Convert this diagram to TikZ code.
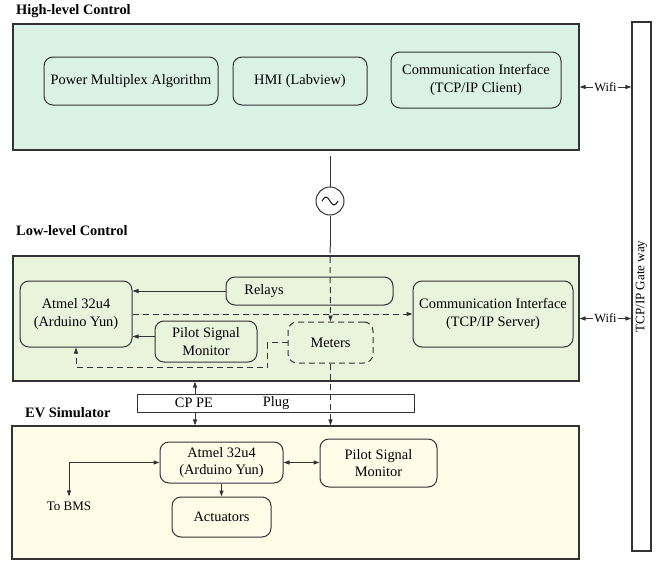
\documentclass[tikz,border=0pt]{standalone}
\usepackage{fontspec}
\setmainfont{Liberation Serif}
\usetikzlibrary{arrows.meta}
\definecolor{hlfill}{HTML}{D9F2E4}
\definecolor{llfill}{HTML}{E9F4DD}
\definecolor{evfill}{HTML}{FFFDE7}
\definecolor{edge}{HTML}{333333}
\begin{document}
\begin{tikzpicture}[x=1pt,y=-1pt,
  >={Triangle[length=6pt,width=4pt]},
  txt/.style={font=\fontsize{14.4}{17.5}\selectfont},
  ttl/.style={font=\bfseries\fontsize{14.4}{17.5}\selectfont, anchor=base west, inner sep=0},
  layer/.style={draw=edge, line width=1.1pt, inner sep=0},
  rbox/.style={draw=edge, line width=1pt, rounded corners=9pt, align=center, inner sep=0, txt},
  conn/.style={line width=1pt, draw=edge},
  dline/.style={conn, dash pattern=on 6pt off 4pt},
  small/.style={font=\fontsize{12.5}{14}\selectfont, inner sep=1pt}]
\useasboundingbox (0,0) rectangle (662,563);

% gateway
\node[layer, fill=white, minimum width=19, minimum height=529] (gate) at (641.5,286.5) {};
\node[rotate=90, font=\fontsize{13}{15}\selectfont] (gatetxt) at (gate.center) {TCP/IP Gate way};

% high-level
\node[ttl] (hlt) at (16,14) {High-level Control};
\node[layer, fill=hlfill, minimum width=566, minimum height=126] (high) at (296,87) {};
\node[rbox, minimum width=174, minimum height=48] (pma) at (131,81) {Power Multiplex Algorithm};
\node[rbox, minimum width=134, minimum height=48] (hmi) at (300,81) {HMI (Labview)};
\node[rbox, minimum width=170, minimum height=56] (cic) at (476,80) {Communication Interface\\(TCP/IP Client)};
\draw[conn, <->] (high.east) -- node[small, fill=white] (wifi1) {Wifi} (high.east -| gate.west);

% AC source
\node[circle, draw=edge, line width=1pt, minimum size=28, inner sep=0] (ac) at (330,201) {};
\draw[line width=0.9pt] (ac.center) ++(-8,0) sin ++(4,-4) cos ++(4,4) sin ++(4,4) cos ++(4,-4);
\coordinate (c1) at (330,247);
\draw[conn, shorten <=5pt] (high.south -| ac) -- (ac.north);
\draw[conn] (ac.south) -- (c1);

% low-level
\node[ttl] (llt) at (16,235) {Low-level Control};
\node[layer, fill=llfill, minimum width=566, minimum height=125] (low) at (296,318.5) {};
\node[rbox, minimum width=112, minimum height=66] (atm1) at (76,314) {Atmel 32u4\\(Arduino Yun)};
\node[rbox, minimum width=167, minimum height=28] (relays) at (309.5,291) {};
\node[txt, inner sep=0] (relaystxt) at (264,291) {Relays};
\node[rbox, minimum width=102, minimum height=41] (psm1) at (206,341.5) {Pilot Signal\\Monitor};
\node[rbox, dash pattern=on 6pt off 4pt, minimum width=85, minimum height=41] (meters) at (330.5,342.5) {Meters};
\node[rbox, minimum width=160, minimum height=66] (cis) at (493,314) {Communication Interface\\(TCP/IP Server)};
\draw[conn, <->] (low.east) -- node[small, fill=white] (wifi2) {Wifi} (low.east -| gate.west);

\draw[conn, ->] (relays.west) -- (relays.west -| atm1.east);
\draw[conn, ->] ([yshift=5pt]psm1.west) -- ([yshift=5pt]psm1.west -| atm1.east);
\draw[dline, ->] (atm1.east) -- (atm1.east -| cis.west);
\draw[dline, ->] (meters.west) -- ++(-20,0) |- ([yshift=-20pt]atm1.south) -- (atm1.south);

% plug
\node[draw=edge, line width=1pt, fill=white, minimum width=277, minimum height=18, inner sep=0] (plug) at (275.5,403) {};
\node[txt, inner sep=0] (cppe) at (194,403) {CP PE};
\node[txt, inner sep=0] (plugtxt) at (276,403) {Plug};

% EV simulator
\node[ttl] (evt) at (25,417) {EV Simulator};
\node[layer, fill=evfill, minimum width=567, minimum height=133] (ev) at (295.5,492.5) {};
\node[rbox, minimum width=123, minimum height=41] (atm2) at (221.5,462.5) {Atmel 32u4\\(Arduino Yun)};
\node[rbox, minimum width=117, minimum height=48] (psm2) at (378.5,463) {Pilot Signal\\Monitor};
\node[rbox, minimum width=99, minimum height=40] (act) at (221.5,517) {Actuators};
\node[font=\fontsize{13}{15}\selectfont, inner sep=0] (bms) at (69,506) {To BMS};

\coordinate (cp) at (195,403);
\draw[conn, ->] (cp |- plug.north) -- (cp |- low.south);
\draw[conn, ->] (cp |- plug.south) -- (cp |- ev.north);

% vertical dashed power path
\draw[dline, ->] (c1) -- (meters.north);
\draw[dline, ->] (meters.south) -- (meters.south |- ev.north);

\draw[conn, <->] (atm2.east) -- (atm2.east -| psm2.west);
\draw[conn, ->] (atm2.south) -- (act.north);
\draw[conn, <->] (atm2.west) -| ([yshift=5pt]bms.north);
\end{tikzpicture}
\end{document}
